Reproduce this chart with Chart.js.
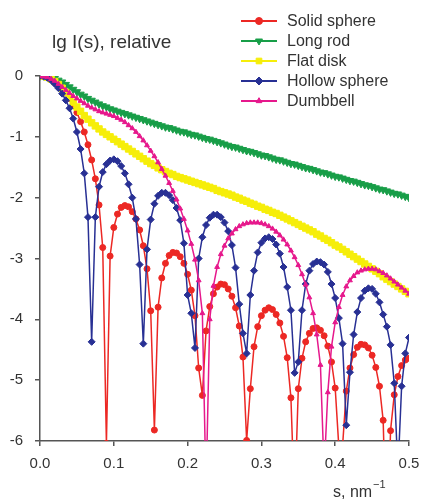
<!DOCTYPE html>
<html>
<head>
<meta charset="utf-8">
<script src="https://cdn.jsdelivr.net/npm/chart.js"></script>
<style>
  html, body { margin: 0; padding: 0; background: #fff; }
  #chart { display: block; }
</style>
</head>
<body>
<canvas id="chart" width="422" height="499"></canvas>
<script>
// scattering vector s, nm^-1
const sValues = [
  0, 0.005, 0.01, 0.015, 0.02, 0.025, 0.03, 0.035, 0.04, 0.045,
  0.05, 0.055, 0.06, 0.065, 0.07, 0.075, 0.08, 0.085, 0.09, 0.095,
  0.1, 0.105, 0.11, 0.115, 0.12, 0.125, 0.13, 0.135, 0.14, 0.145,
  0.15, 0.155, 0.16, 0.165, 0.17, 0.175, 0.18, 0.185, 0.19, 0.195,
  0.2, 0.205, 0.21, 0.215, 0.22, 0.225, 0.23, 0.235, 0.24, 0.245,
  0.25, 0.255, 0.26, 0.265, 0.27, 0.275, 0.28, 0.285, 0.29, 0.295,
  0.3, 0.305, 0.31, 0.315, 0.32, 0.325, 0.33, 0.335, 0.34, 0.345,
  0.35, 0.355, 0.36, 0.365, 0.37, 0.375, 0.38, 0.385, 0.39, 0.395,
  0.4, 0.405, 0.41, 0.415, 0.42, 0.425, 0.43, 0.435, 0.44, 0.445,
  0.45, 0.455, 0.46, 0.465, 0.47, 0.475, 0.48, 0.485, 0.49, 0.495,
  0.5
];

const solidSphere = [
  0, -0.01, -0.02, -0.05, -0.09, -0.14, -0.2, -0.28, -0.37, -0.48,
  -0.6, -0.75, -0.92, -1.13, -1.38, -1.69, -2.12, -2.82, -6.04, -2.96,
  -2.49, -2.27, -2.16, -2.13, -2.15, -2.23, -2.35, -2.53, -2.79, -3.17,
  -3.86, -5.82, -3.8, -3.32, -3.08, -2.95, -2.9, -2.91, -2.97, -3.08,
  -3.26, -3.52, -3.94, -4.8, -5.25, -4.19, -3.79, -3.58, -3.47, -3.42,
  -3.43, -3.5, -3.62, -3.81, -4.11, -4.62, -5.99, -5.14, -4.45, -4.12,
  -3.94, -3.85, -3.81, -3.84, -3.92, -4.06, -4.28, -4.63, -5.29, -7.06,
  -5.14, -4.64, -4.37, -4.23, -4.15, -4.14, -4.18, -4.27, -4.44, -4.7,
  -5.13, -6.11, -6.08, -5.18, -4.8, -4.58, -4.46, -4.41, -4.42, -4.47,
  -4.59, -4.79, -5.1, -5.66, -7.95, -5.83, -5.24, -4.94, -4.76, -4.67,
  -4.64
];

const longRod = [
  0, 0, -0.01, -0.02, -0.04, -0.07, -0.1, -0.14, -0.18, -0.22,
  -0.26, -0.3, -0.33, -0.37, -0.4, -0.43, -0.46, -0.49, -0.51, -0.54,
  -0.56, -0.58, -0.6, -0.62, -0.64, -0.66, -0.68, -0.7, -0.72, -0.74,
  -0.76, -0.78, -0.8, -0.82, -0.84, -0.85, -0.87, -0.89, -0.91, -0.92,
  -0.94, -0.96, -0.97, -0.99, -1.01, -1.03, -1.04, -1.06, -1.08, -1.1,
  -1.12, -1.14, -1.16, -1.17, -1.19, -1.21, -1.23, -1.24, -1.26, -1.28,
  -1.3, -1.31, -1.33, -1.35, -1.37, -1.38, -1.4, -1.42, -1.44, -1.45,
  -1.47, -1.49, -1.51, -1.52, -1.54, -1.56, -1.58, -1.59, -1.61, -1.63,
  -1.65, -1.66, -1.68, -1.7, -1.72, -1.73, -1.75, -1.77, -1.79, -1.8,
  -1.82, -1.84, -1.86, -1.87, -1.89, -1.91, -1.93, -1.94, -1.96, -1.98,
  -2.0
];

const flatDisk = [
  0, -0.005, -0.02, -0.05, -0.09, -0.14, -0.2, -0.27, -0.35, -0.43,
  -0.51, -0.58, -0.65, -0.71, -0.77, -0.82, -0.87, -0.92, -0.96, -1.0,
  -1.04, -1.08, -1.12, -1.16, -1.2, -1.24, -1.28, -1.32, -1.36, -1.4,
  -1.44, -1.47, -1.51, -1.54, -1.57, -1.6, -1.62, -1.65, -1.67, -1.69,
  -1.71, -1.73, -1.75, -1.77, -1.79, -1.81, -1.83, -1.85, -1.88, -1.9,
  -1.92, -1.94, -1.96, -1.99, -2.01, -2.04, -2.06, -2.09, -2.11, -2.14,
  -2.16, -2.19, -2.21, -2.24, -2.26, -2.29, -2.32, -2.35, -2.38, -2.41,
  -2.44, -2.47, -2.5, -2.53, -2.56, -2.6, -2.63, -2.67, -2.7, -2.74,
  -2.78, -2.81, -2.85, -2.89, -2.93, -2.97, -3.01, -3.05, -3.09, -3.13,
  -3.17, -3.21, -3.25, -3.3, -3.34, -3.38, -3.42, -3.46, -3.5, -3.54,
  -3.58
];

const hollowSphere = [
  0, -0.01, -0.03, -0.07, -0.13, -0.2, -0.29, -0.4, -0.53, -0.7,
  -0.92, -1.2, -1.6, -2.32, -4.37, -2.32, -1.82, -1.58, -1.45, -1.39,
  -1.37, -1.4, -1.48, -1.6, -1.78, -2.0, -2.35, -3.1, -4.4, -2.85,
  -2.36, -2.1, -1.97, -1.92, -1.92, -1.96, -2.04, -2.17, -2.37, -2.75,
  -3.6, -3.9, -4.47, -3.0, -2.65, -2.45, -2.33, -2.28, -2.28, -2.32,
  -2.41, -2.55, -2.78, -3.15, -3.75, -4.23, -4.56, -3.6, -3.2, -2.9,
  -2.74, -2.67, -2.65, -2.68, -2.77, -2.92, -3.14, -3.47, -3.85, -4.88,
  -4.7, -3.85, -3.42, -3.2, -3.09, -3.05, -3.06, -3.1, -3.22, -3.42,
  -3.65, -3.98, -4.4, -5.74, -4.87, -4.25, -3.88, -3.65, -3.53, -3.49,
  -3.5, -3.58, -3.72, -3.92, -4.12, -4.42, -5.05, -6.5, -5.1, -4.56,
  -4.3
];

const dumbbell = [
  0, -0.01, -0.02, -0.05, -0.08, -0.13, -0.18, -0.23, -0.28, -0.33,
  -0.37, -0.41, -0.45, -0.49, -0.52, -0.55, -0.58, -0.6, -0.62, -0.64,
  -0.66, -0.69, -0.72, -0.76, -0.81, -0.86, -0.92, -0.99, -1.06, -1.14,
  -1.23, -1.32, -1.42, -1.53, -1.64, -1.76, -1.89, -2.03, -2.18, -2.35,
  -2.54, -2.76, -3.02, -3.36, -3.9, -6.8, -4.0, -3.45, -3.14, -2.93,
  -2.79, -2.67, -2.59, -2.52, -2.47, -2.44, -2.42, -2.41, -2.41, -2.41,
  -2.42, -2.44, -2.47, -2.51, -2.56, -2.62, -2.69, -2.77, -2.87, -2.98,
  -3.11, -3.26, -3.43, -3.64, -3.9, -4.25, -4.75, -6.5, -5.2, -4.45,
  -4.05, -3.8, -3.6, -3.46, -3.36, -3.29, -3.23, -3.2, -3.18, -3.17,
  -3.17, -3.18, -3.21, -3.24, -3.28, -3.33, -3.38, -3.43, -3.48, -3.53,
  -3.58
];

const xTicks = [0, 0.1, 0.2, 0.3, 0.4, 0.5];
const yTicks = [0, -1, -2, -3, -4, -5, -6];
const yTitle = 'lg I(s), relative';
const xTitle = 's, nm';
const xTitleSup = '\u22121';

const textColor = '#333';
const axisColor = '#555';
const fontFamily = '"Liberation Sans", Arial, sans-serif';

function toPoints(values) {
  return sValues.map((s, i) => ({ x: s, y: values[i] }));
}

function series(label, values, color, pointStyle, radius, rotation, order) {
  return {
    label: label,
    data: toPoints(values),
    borderColor: color,
    backgroundColor: color,
    pointBackgroundColor: color,
    pointBorderColor: color,
    borderWidth: 1.5,
    pointStyle: pointStyle,
    pointRadius: radius,
    pointHoverRadius: radius,
    pointBorderWidth: 1,
    pointRotation: rotation,
    tension: 0,
    fill: false,
    order: order
  };
}

// title, legend and axis unit drawn on the canvas
const decorations = {
  id: 'decorations',
  afterDraw(chart) {
    const ctx = chart.ctx;
    ctx.save();
    ctx.fillStyle = textColor;
    ctx.textAlign = 'left';
    ctx.textBaseline = 'alphabetic';
    ctx.font = '19px ' + fontFamily;
    ctx.fillText(yTitle, 52, 48);

    chart.data.datasets.forEach((ds, i) => {
      const y = 21 + i * 20;
      ctx.strokeStyle = ds.borderColor;
      ctx.lineWidth = 2;
      ctx.beginPath();
      ctx.moveTo(241, y);
      ctx.lineTo(277, y);
      ctx.stroke();
      ctx.fillStyle = ds.pointBackgroundColor;
      ctx.strokeStyle = ds.pointBorderColor;
      ctx.lineWidth = 1;
      Chart.helpers.drawPoint(ctx, {
        pointStyle: ds.pointStyle,
        radius: Math.min(ds.pointRadius, 3.5) + 0.5,
        rotation: ds.pointRotation,
        borderWidth: 1
      }, 259, y);
      ctx.fillStyle = textColor;
      ctx.font = '16px ' + fontFamily;
      ctx.textBaseline = 'middle';
      ctx.fillText(ds.label, 287, y + 1);
    });

    ctx.textBaseline = 'alphabetic';
    ctx.font = '16px ' + fontFamily;
    ctx.fillText(xTitle, 333, 497);
    const w = ctx.measureText(xTitle).width;
    ctx.font = '11px ' + fontFamily;
    ctx.fillText(xTitleSup, 333 + w + 1, 488);
    ctx.restore();
  }
};

const ctx = document.querySelector('#chart').getContext('2d');
const chart = new Chart(ctx, {
  type: 'line',
  data: {
    datasets: [
      series('Solid sphere', solidSphere, 'rgb(236,40,36)', 'circle', 3, 0, 5),
      series('Long rod', longRod, 'rgb(24,158,72)', 'triangle', 4.2, 180, 4),
      series('Flat disk', flatDisk, 'rgb(246,238,10)', 'rect', 4.5, 0, 3),
      series('Hollow sphere', hollowSphere, 'rgb(40,48,148)', 'rectRot', 3.5, 0, 2),
      series('Dumbbell', dumbbell, 'rgb(230,24,140)', 'triangle', 2.8, 0, 1)
    ]
  },
  options: {
    responsive: false,
    animation: false,
    devicePixelRatio: 1,
    layout: { padding: { top: 76, right: 13, left: 0, bottom: 0 } },
    plugins: {
      legend: { display: false },
      tooltip: { enabled: false }
    },
    scales: {
      x: {
        type: 'linear',
        min: 0,
        max: 0.5,
        afterBuildTicks: scale => { scale.ticks = xTicks.map(v => ({ value: v })); },
        afterFit: scale => {
          scale.height = 58;
          scale.paddingLeft = 0;
          scale.paddingRight = 0;
        },
        ticks: {
          callback: v => v.toFixed(1),
          color: textColor,
          font: { size: 15, family: fontFamily },
          padding: 9,
          maxRotation: 0
        },
        grid: { drawOnChartArea: false, drawTicks: true, tickLength: 5, color: axisColor, lineWidth: 1.5 },
        border: { color: axisColor, width: 1.5 }
      },
      y: {
        min: -6,
        max: 0,
        afterBuildTicks: scale => { scale.ticks = yTicks.map(v => ({ value: v })); },
        afterFit: scale => { scale.width = 40; },
        ticks: {
          callback: v => String(v),
          color: textColor,
          font: { size: 15, family: fontFamily },
          padding: 12
        },
        grid: { drawOnChartArea: false, drawTicks: true, tickLength: 5, color: axisColor, lineWidth: 1.5 },
        border: { color: axisColor, width: 1.5 }
      }
    }
  },
  plugins: [decorations]
});
</script>
</body>
</html>
